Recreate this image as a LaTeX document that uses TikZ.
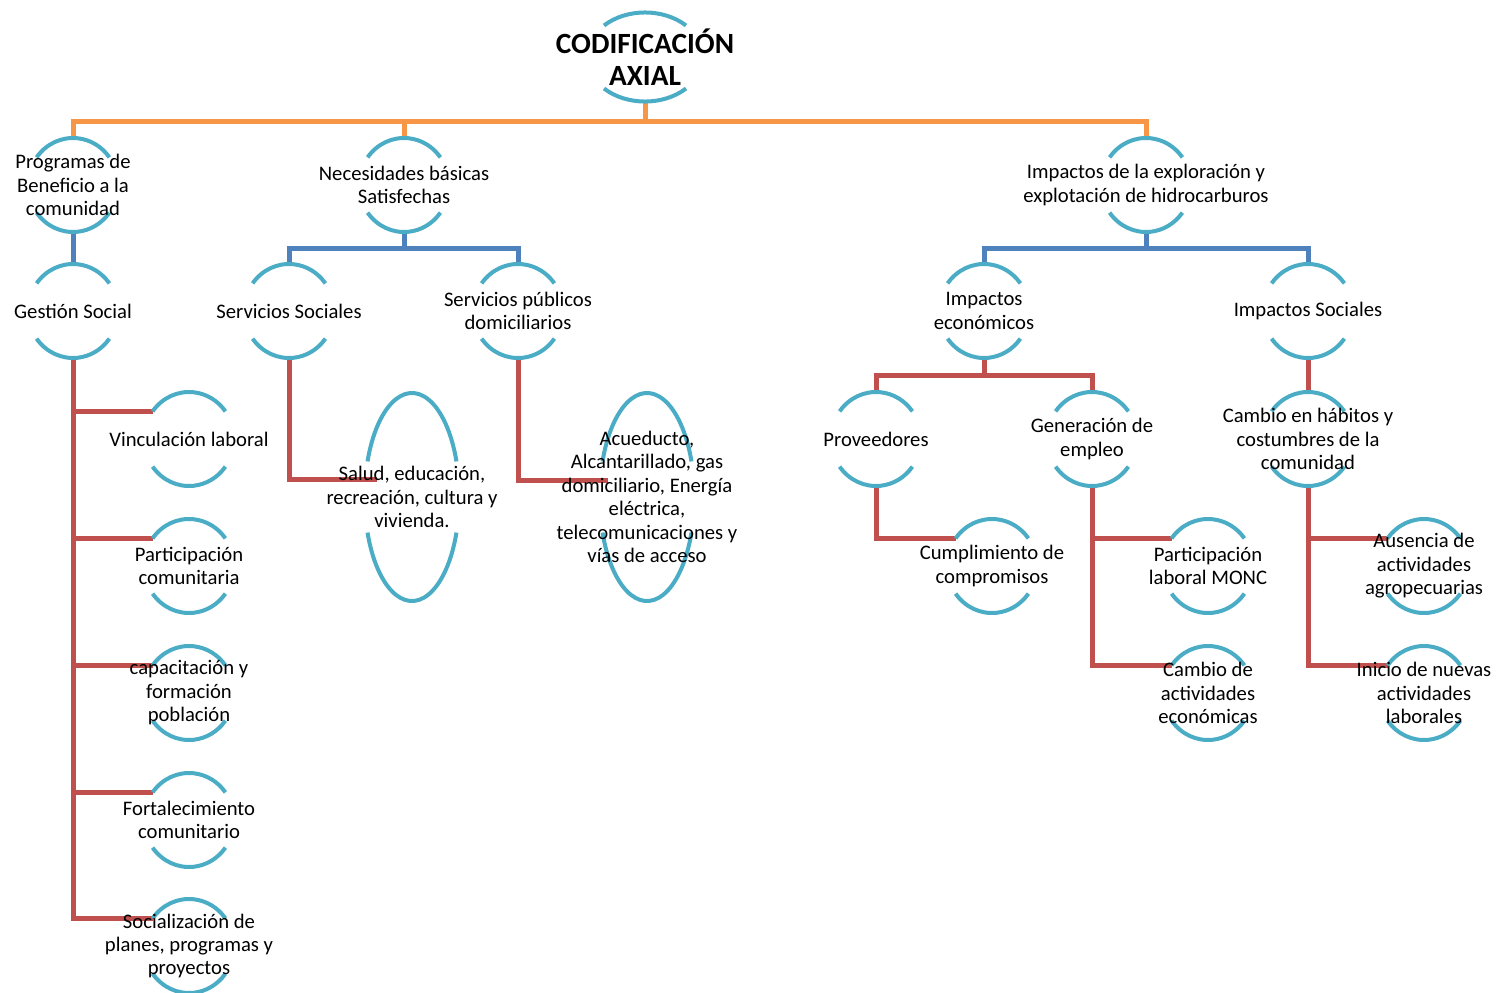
\documentclass[tikz,border=0pt]{standalone}
\usepackage{fontspec}
\setmainfont{Carlito}
\usetikzlibrary{calc}
\definecolor{arcblue}{HTML}{4BACC6}
\definecolor{lnorange}{HTML}{F79646}
\definecolor{lnblue}{HTML}{4F81BD}
\definecolor{lnred}{HTML}{C0504D}
\pgfdeclarelayer{background}
\pgfsetlayers{background,main}
\begin{document}
\begin{tikzpicture}[
                x=0.75pt, y=0.75pt,
                item/.style={rectangle, inner sep=0pt, minimum height=70.5pt, align=center, font=\fontsize{15.5}{17.6}\selectfont},
                tall/.style={item, minimum height=156pt},
                title/.style={item, minimum height=67pt, font=\fontsize{22}{24}\selectfont\bfseries},
                arcline/.style={draw=arcblue, line width=3pt},
                toplink/.style={draw=lnorange, line width=3.75pt},
                midlink/.style={draw=lnblue, line width=3.75pt},
                lowlink/.style={draw=lnred, line width=3.75pt}
            ]
            \useasboundingbox (0,0) rectangle (1497,-993);

            % Root
            \node[title] (root) at (645,-57) {CODIFICACIÓN\\AXIAL};

            % First Level
            \node[item] (prog) at (73,-185) {Programas de\\Beneficio a la\\comunidad};
            \node[item] (nec) at (404,-185) {Necesidades básicas\\Satisfechas};
            \node[item] (imp) at (1146,-185) {Impactos de la exploración y\\explotación de hidrocarburos};

            % Second Level
            \node[item] (gest) at (73,-311) {Gestión Social};
            \node[item] (servsoc) at (289,-311) {Servicios Sociales};
            \node[item] (servpub) at (518,-311) {Servicios públicos\\domiciliarios};
            \node[item] (impeco) at (984,-311) {Impactos\\económicos};
            \node[item] (impsoc) at (1308,-311) {Impactos Sociales};

            % Third Level
            \node[item] (vinc) at (189,-439) {Vinculación laboral};
            \node[item] (partc) at (189,-566) {Participación\\comunitaria};
            \node[item] (capac) at (189,-693) {capacitación y\\formación\\población};
            \node[item] (fort) at (189,-820) {Fortalecimiento\\comunitario};
            \node[item] (social) at (189,-946) {Socialización de\\planes, programas y\\proyectos};
            \node[tall] (salud) at (412,-497) {Salud, educación,\\recreación, cultura y\\vivienda.};
            \node[tall] (acued) at (647,-497) {Acueducto,\\Alcantarillado, gas\\domiciliario, Energía\\eléctrica,\\telecomunicaciones y\\vías de acceso};
            \node[item] (prov) at (876,-439) {Proveedores};
            \node[item] (gener) at (1092,-439) {Generación de\\empleo};
            \node[item] (cambh) at (1308,-439) {Cambio en hábitos y\\costumbres de la\\comunidad};

            % Fourth Level
            \node[item] (cumpl) at (992,-566) {Cumplimiento de\\compromisos};
            \node[item] (partl) at (1208,-566) {Participación\\laboral MONC};
            \node[item] (cambact) at (1208,-693) {Cambio de\\actividades\\económicas};
            \node[item] (ausen) at (1424,-566) {Ausencia de\\actividades\\agropecuarias};
            \node[item] (inicio) at (1424,-693) {Inicio de nuevas\\actividades\\laborales};

            \begin{pgfonlayer}{background}
                \coordinate (obar) at (0,-121);
                \coordinate (bbar) at (0,-248);
                \coordinate (rbar) at (0,-375);

                % Arc tips of the children
                \foreach \n in {vinc,partc,capac,fort,social,cumpl,partl,cambact,ausen,inicio} {
                    \coordinate (\n-tip) at ([shift={(144:33.75pt and 35.25pt)}]\n.center);
                }

                % Orange links
                \draw[toplink] (prog.north) |- (obar -| imp.north) -- (imp.north);
                \draw[toplink] (root.south) -- (root.south |- obar);
                \draw[toplink] (nec.north) -- (nec.north |- obar);

                % Blue links
                \draw[midlink] (prog.south) -- (gest.north);
                \draw[midlink] (servsoc.north) |- (bbar -| servpub.north) -- (servpub.north);
                \draw[midlink] (nec.south) -- (nec.south |- bbar);
                \draw[midlink] (impeco.north) |- (bbar -| impsoc.north) -- (impsoc.north);
                \draw[midlink] (imp.south) -- (imp.south |- bbar);

                % Red links
                \draw[lowlink] (gest.south) |- (social-tip);
                \foreach \n in {vinc,partc,capac,fort} { \draw[lowlink] (gest.south |- \n-tip) -- (\n-tip); }
                \draw[lowlink] (servsoc.south) |- ([shift={(-35,18)}]salud.center);
                \draw[lowlink] (servpub.south) |- ([shift={(-39,17)}]acued.center);
                \draw[lowlink] (prov.north) |- (rbar -| gener.north) -- (gener.north);
                \draw[lowlink] (impeco.south) -- (impeco.south |- rbar);
                \draw[lowlink] (prov.south) |- (cumpl-tip);
                \draw[lowlink] (gener.south) |- (cambact-tip);
                \draw[lowlink] (gener.south |- partl-tip) -- (partl-tip);
                \draw[lowlink] (impsoc.south) -- (cambh.north);
                \draw[lowlink] (cambh.south) |- (inicio-tip);
                \draw[lowlink] (cambh.south |- ausen-tip) -- (ausen-tip);

                % Arcs round the nodes
                \draw[arcline] ([shift={(135:43.5pt and 33.4pt)}]root.center) arc[start angle=135, end angle=45, x radius=43.5pt, y radius=33.4pt];
                \draw[arcline] ([shift={(225:43.5pt and 33.4pt)}]root.center) arc[start angle=225, end angle=315, x radius=43.5pt, y radius=33.4pt];
                \foreach \n in {prog,nec,imp,gest,servsoc,servpub,impeco,impsoc,vinc,partc,capac,fort,social,prov,gener,cambh,cumpl,partl,cambact,ausen,inicio} {
                    \draw[arcline] ([shift={(144:33.75pt and 35.25pt)}]\n.center) arc[start angle=144, end angle=36, x radius=33.75pt, y radius=35.25pt];
                    \draw[arcline] ([shift={(216:33.75pt and 35.25pt)}]\n.center) arc[start angle=216, end angle=324, x radius=33.75pt, y radius=35.25pt];
                }
                \foreach \n in {salud,acued} {
                    \draw[arcline] ([shift={(160:35.5pt and 78pt)}]\n.center) arc[start angle=160, end angle=20, x radius=35.5pt, y radius=78pt];
                    \draw[arcline] ([shift={(200:35.5pt and 78pt)}]\n.center) arc[start angle=200, end angle=340, x radius=35.5pt, y radius=78pt];
                }
            \end{pgfonlayer}
        \end{tikzpicture}
\end{document}
